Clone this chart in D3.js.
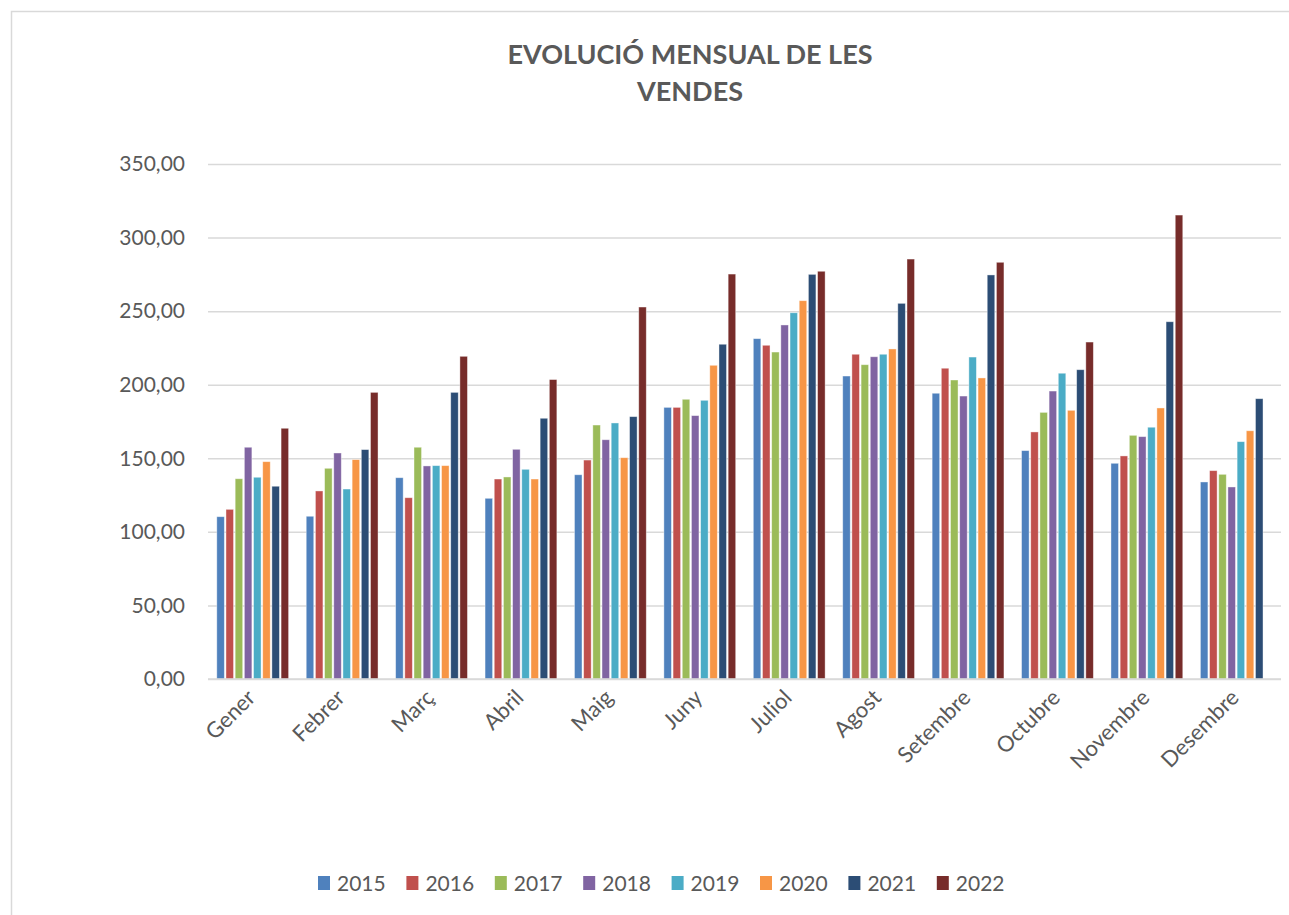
<!DOCTYPE html>
<html>
<head>
<meta charset="utf-8">
<script src="https://cdn.jsdelivr.net/npm/d3@7"></script>
<style>
  body { margin: 0; background: #fff; }
  text { font-family: Lato, "Open Sans", sans-serif; fill: #595959; }
</style>
</head>
<body>
<div id="chart"></div>
<script>
var months = ["Gener", "Febrer", "Març", "Abril", "Maig", "Juny", "Juliol", "Agost", "Setembre", "Octubre", "Novembre", "Desembre"];
var years = ["2015", "2016", "2017", "2018", "2019", "2020", "2021", "2022"];
var colors = ["#4F81BD", "#C0504D", "#9BBB59", "#8064A2", "#4BACC6", "#F79646", "#2C4D75", "#772C2A"];

var v2015 = [110.3, 110.6, 136.8, 122.8, 138.8, 184.6, 231.3, 205.9, 194.2, 155.2, 146.6, 133.9];
var v2016 = [115.3, 127.8, 123.2, 135.9, 148.8, 184.6, 226.8, 220.7, 211.2, 167.9, 151.6, 141.6];
var v2017 = [136.1, 143.2, 157.5, 137.3, 172.6, 190.1, 222.2, 213.6, 203.2, 181.2, 165.6, 139.1];
var v2018 = [157.5, 153.6, 144.8, 156.1, 162.6, 179.0, 240.6, 219.0, 192.3, 195.7, 164.7, 130.5];
var v2019 = [137.1, 129.1, 145.0, 142.5, 174.0, 189.4, 248.9, 220.7, 218.8, 207.8, 171.1, 161.3];
var v2020 = [147.7, 149.1, 145.0, 135.9, 150.4, 213.2, 257.1, 224.3, 204.6, 182.6, 184.2, 168.7];
var v2021 = [131.0, 155.9, 194.8, 177.2, 178.3, 227.5, 275.0, 255.3, 274.6, 210.2, 242.8, 190.5];
var v2022 = [170.4, 194.8, 219.3, 203.5, 252.8, 275.2, 277.1, 285.4, 283.2, 229.0, 315.3, null];

var series = [v2015, v2016, v2017, v2018, v2019, v2020, v2021, v2022];
var yTicks = [0, 50, 100, 150, 200, 250, 300, 350];

var width = 1289, height = 915;
var margin = {top: 164, right: 8, bottom: 236, left: 208};

var svg = d3.select("#chart").append("svg")
    .attr("width", width)
    .attr("height", height);

// chart frame
svg.append("rect")
    .attr("x", 11.5).attr("y", 11.5)
    .attr("width", width + 20).attr("height", height + 20)
    .attr("fill", "none")
    .attr("stroke", "#d9d9d9")
    .attr("stroke-width", 1.5);

var x0 = d3.scaleBand()
    .domain(months)
    .range([margin.left, width - margin.right])
    .paddingInner(0.16)
    .paddingOuter(0.08);

var x1 = d3.scaleBand()
    .domain(years)
    .range([0, x0.bandwidth()])
    .padding(0.18);

var y = d3.scaleLinear()
    .domain([0, 350])
    .range([height - margin.bottom, margin.top]);

var fmt = d => d3.format(".2f")(d).replace(".", ",");

// gridlines + y labels
var yAxis = svg.append("g")
    .attr("transform", `translate(${margin.left},0)`)
    .call(d3.axisLeft(y).tickValues(yTicks).tickFormat(fmt).tickSize(-(width - margin.left - margin.right)).tickPadding(23));
yAxis.select(".domain").remove();
yAxis.selectAll(".tick line").attr("stroke", "#d9d9d9").attr("stroke-width", 1.5);
yAxis.selectAll(".tick text").style("font-size", "21px").attr("fill", "#595959");

// bars
var groups = svg.append("g")
  .selectAll("g")
  .data(months)
  .join("g")
  .attr("transform", d => `translate(${x0(d)},0)`);

groups.selectAll("rect")
  .data((m, i) => years.map((yr, j) => ({year: yr, value: series[j][i], idx: j})).filter(d => d.value != null))
  .join("rect")
  .attr("x", d => x1(d.year))
  .attr("y", d => y(d.value))
  .attr("width", x1.bandwidth())
  .attr("height", d => y(0) - y(d.value))
  .attr("fill", d => colors[d.idx])
  .attr("stroke", "#fff")
  .attr("stroke-opacity", 0.5)
  .attr("stroke-width", 0.8);

// x axis baseline
svg.append("line")
    .attr("x1", margin.left).attr("x2", width - margin.right)
    .attr("y1", y(0)).attr("y2", y(0))
    .attr("stroke", "#d9d9d9").attr("stroke-width", 1.5);

// x labels
svg.append("g")
  .selectAll("text")
  .data(months)
  .join("text")
  .attr("transform", d => `translate(${x0(d) + x0.bandwidth() / 2 + 4},${y(0) + 20}) rotate(-45)`)
  .attr("text-anchor", "end")
  .style("font-size", "22px")
  .text(d => d);

// title
var title = svg.append("text")
    .attr("x", 690)
    .attr("y", 64)
    .attr("text-anchor", "middle")
    .style("font-size", "27px")
    .style("font-weight", "bold");
title.append("tspan").attr("x", 690).text("EVOLUCIÓ MENSUAL DE LES");
title.append("tspan").attr("x", 690).attr("dy", 37).text("VENDES");

// legend
var legend = svg.append("g")
  .selectAll("g")
  .data(years)
  .join("g")
  .attr("transform", (d, i) => `translate(${318 + i * 88.4},876)`);

legend.append("rect")
  .attr("width", 12).attr("height", 14)
  .attr("fill", (d, i) => colors[i]);

legend.append("text")
  .attr("x", 19).attr("y", 15)
  .style("font-size", "21px")
  .text(d => d);
</script>
</body>
</html>
